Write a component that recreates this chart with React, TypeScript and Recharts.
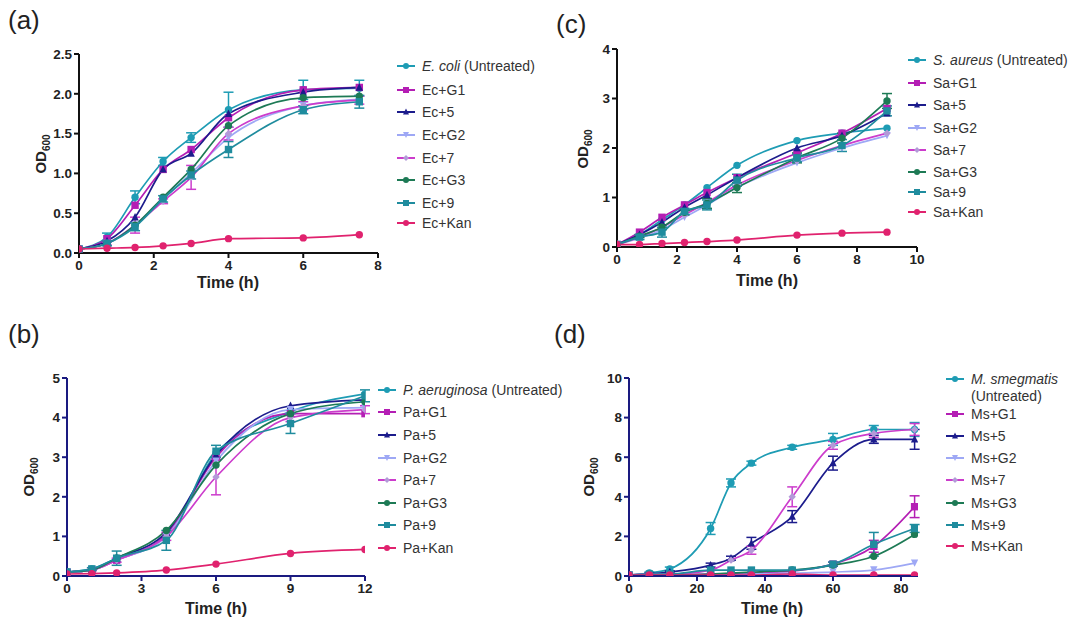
import React from "react";
import { LineChart, Line, XAxis, YAxis, ErrorBar } from "recharts";

// sample times (h)
const timeA = [0, 0.75, 1.5, 2.25, 3, 4, 6, 7.5];
const timeB = [0, 1, 2, 4, 6, 9, 12];
const timeC = [0, 0.75, 1.5, 2.25, 3, 4, 6, 7.5, 9];
const timeD = [0, 6, 12, 24, 30, 36, 48, 60, 72, 84];

// (a) E. coli
const ecUntreated = [0.05, 0.2, 0.7, 1.15, 1.45, 1.8, 2.05, 2.07];
const ecG1 = [0.05, 0.18, 0.6, 1.05, 1.3, 1.7, 2.05, 2.08];
const ec5 = [0.05, 0.15, 0.45, 1.05, 1.25, 1.75, 2.02, 2.08];
const ecG2 = [0.05, 0.12, 0.35, 0.68, 1.0, 1.45, 1.85, 1.93];
const ec7 = [0.05, 0.12, 0.35, 0.65, 0.95, 1.5, 1.85, 1.92];
const ecG3 = [0.05, 0.12, 0.35, 0.7, 1.05, 1.6, 1.95, 1.97];
const ec9 = [0.05, 0.12, 0.33, 0.68, 0.98, 1.3, 1.8, 1.9];
const ecKan = [0.05, 0.06, 0.07, 0.09, 0.12, 0.18, 0.19, 0.23];
const ecUntreatedErr = [0, 0.05, 0.08, 0.05, 0.06, 0.22, 0.12, 0.1];
const ec9Err = [0, 0.03, 0.05, 0.04, 0.05, 0.1, 0.05, 0.08];
const ec7Err = [0, 0.02, 0.1, 0.03, 0.15, 0.08, 0.05, 0.05];

// (b) P. aeruginosa
const paUntreated = [0.1, 0.18, 0.45, 1.0, 3.1, 4.15, 4.6];
const paG1 = [0.1, 0.15, 0.4, 1.05, 3.0, 4.1, 4.1];
const pa5 = [0.1, 0.15, 0.45, 1.1, 3.05, 4.3, 4.45];
const paG2 = [0.1, 0.15, 0.4, 1.0, 2.9, 4.2, 4.25];
const pa7 = [0.1, 0.15, 0.4, 1.0, 2.5, 4.0, 4.2];
const paG3 = [0.1, 0.15, 0.45, 1.15, 2.8, 4.1, 4.4];
const pa9 = [0.1, 0.18, 0.45, 0.9, 3.15, 3.85, 4.55];
const paKan = [0.05, 0.06, 0.08, 0.15, 0.3, 0.57, 0.67];
const pa9Err = [0, 0.03, 0.18, 0.25, 0.15, 0.25, 0.15];
const pa7Err = [0, 0.02, 0.05, 0.1, 0.45, 0.1, 0.1];

// (c) S. aureus
const saUntreated = [0.05, 0.25, 0.55, 0.85, 1.2, 1.65, 2.15, 2.3, 2.4];
const saG1 = [0.05, 0.3, 0.6, 0.85, 1.1, 1.4, 1.9, 2.3, 2.8];
const sa5 = [0.05, 0.25, 0.5, 0.8, 1.05, 1.4, 2.0, 2.25, 2.7];
const saG2 = [0.05, 0.18, 0.35, 0.6, 0.85, 1.2, 1.7, 2.0, 2.25];
const sa7 = [0.05, 0.2, 0.4, 0.65, 0.9, 1.25, 1.75, 2.05, 2.3];
const saG3 = [0.05, 0.22, 0.4, 0.7, 0.88, 1.2, 1.8, 2.2, 2.95];
const sa9 = [0.05, 0.2, 0.3, 0.72, 0.85, 1.35, 1.8, 2.05, 2.75];
const saKan = [0.05, 0.05, 0.07, 0.09, 0.11, 0.14, 0.24, 0.28, 0.3];
const saG3Err = [0, 0.03, 0.05, 0.05, 0.1, 0.1, 0.1, 0.1, 0.15];
const sa9Err = [0, 0.05, 0.1, 0.06, 0.1, 0.12, 0.08, 0.12, 0.1];

// (d) M. smegmatis
const msUntreated = [0.05, 0.15, 0.35, 2.4, 4.7, 5.7, 6.5, 6.9, 7.4, 7.4];
const msG1 = [0.05, 0.05, 0.05, 0.1, 0.1, 0.15, 0.25, 0.6, 1.5, 3.5];
const ms5 = [0.05, 0.1, 0.2, 0.55, 0.9, 1.65, 3.0, 5.7, 6.9, 6.9];
const msG2 = [0.05, 0.05, 0.05, 0.05, 0.05, 0.1, 0.15, 0.2, 0.3, 0.65];
const ms7 = [0.05, 0.1, 0.1, 0.3, 0.8, 1.3, 4.0, 6.6, 7.2, 7.4];
const msG3 = [0.05, 0.05, 0.05, 0.1, 0.15, 0.2, 0.3, 0.55, 1.0, 2.1];
const ms9 = [0.05, 0.1, 0.1, 0.3, 0.3, 0.3, 0.3, 0.6, 1.6, 2.4];
const msKan = [0.05, 0.05, 0.05, 0.05, 0.05, 0.05, 0.1, 0.05, 0.05, 0.05];
const msUntreatedErr = [0, 0.05, 0.1, 0.3, 0.2, 0.1, 0.1, 0.3, 0.2, 0.35];
const ms5Err = [0, 0.05, 0.05, 0.1, 0.1, 0.3, 0.3, 0.35, 0.2, 0.5];
const msG1Err = [0, 0, 0, 0, 0, 0, 0, 0.1, 0.3, 0.55];
const ms9Err = [0, 0, 0, 0, 0, 0, 0, 0.1, 0.6, 0.2];
const ms7Err = [0, 0, 0, 0, 0, 0.2, 0.5, 0.2, 0.2, 0.3];

const colors = ["#1e9cb4", "#b41eb4", "#1c1c8c", "#9ea8f5", "#cc3ccc", "#1d7a55", "#1f8c9e", "#e0226e"];
const markerColors = ["#1e9cb4", "#b41eb4", "#1c1c8c", "#9ea8f5", "#b39ad8", "#1d7a55", "#1f8c9e", "#e0226e"];
const shapes = ["circle", "square", "triangle", "tridown", "diamond", "circle", "square", "circle"];
const suffixes = ["+G1", "+5", "+G2", "+7", "+G3", "+9", "+Kan"];

const FONT = "Arial, 'Liberation Sans'";

function Marker({ cx, cy, shape, color, s = 3.7 }: any) {
  if (shape === "square") return <rect x={cx - s} y={cy - s} width={s * 2} height={s * 2} fill={color} />;
  if (shape === "triangle")
    return <polygon points={`${cx},${cy - s - 0.5} ${cx - s},${cy + s - 0.5} ${cx + s},${cy + s - 0.5}`} fill={color} />;
  if (shape === "tridown")
    return <polygon points={`${cx},${cy + s} ${cx - s},${cy - s} ${cx + s},${cy - s}`} fill={color} />;
  if (shape === "diamond")
    return <polygon points={`${cx},${cy - s} ${cx + s},${cy} ${cx},${cy + s} ${cx - s},${cy}`} fill={color} />;
  return <circle cx={cx} cy={cy} r={s} fill={color} />;
}

interface PanelProps {
  left: number;
  top: number;
  width: number;
  height: number;
  times: number[];
  series: number[][];
  errors: Record<number, number[]>;
  xDomain: [number, number];
  xTicks: number[];
  yDomain: [number, number];
  yTicks: number[];
  yFmt?: (v: number) => string;
  axisColor: string;
}

const tickStyle = { fontSize: 13.5, fontWeight: 700, fill: "#222", fontFamily: FONT };

function Panel(p: PanelProps) {
  const rows = p.times.map((t, i) => {
    const r: any = { t };
    p.series.forEach((s, k) => {
      r["s" + k] = s[i];
      if (p.errors[k]) r["e" + k] = p.errors[k][i];
    });
    return r;
  });
  return (
    <div style={{ position: "absolute", left: p.left, top: p.top }}>
      <LineChart width={p.width} height={p.height} data={rows} margin={{ top: 10, right: 10, left: 0, bottom: 0 }}>
        <XAxis
          dataKey="t"
          type="number"
          domain={p.xDomain}
          ticks={p.xTicks}
          height={45}
          tick={tickStyle}
          tickSize={5}
          stroke={p.axisColor}
          strokeWidth={2}
          tickLine={{ stroke: p.axisColor, strokeWidth: 2 }}
          allowDataOverflow
        />
        <YAxis
          type="number"
          domain={p.yDomain}
          ticks={p.yTicks}
          width={50}
          tick={tickStyle}
          tickSize={5}
          tickFormatter={p.yFmt}
          stroke={p.axisColor}
          strokeWidth={2}
          tickLine={{ stroke: p.axisColor, strokeWidth: 2 }}
          allowDataOverflow
        />
        {p.series.map((_, k) => (
          <Line
            key={k}
            dataKey={"s" + k}
            type="monotone"
            stroke={colors[k]}
            strokeWidth={1.7}
            isAnimationActive={false}
            dot={(d: any) => (
              <Marker key={`d${k}-${d.index}`} cx={d.cx} cy={d.cy} shape={shapes[k]} color={markerColors[k]} />
            )}
            activeDot={false}
          >
            {p.errors[k] ? (
              <ErrorBar dataKey={"e" + k} width={5} stroke={colors[k]} strokeWidth={1.5} direction="y" />
            ) : null}
          </Line>
        ))}
      </LineChart>
    </div>
  );
}

function LegendBox({ left, rows, prefix, species, wrap }: any) {
  return (
    <div style={{ position: "absolute", left, top: 0, fontFamily: FONT, fontSize: 14, color: "#333" }}>
      {rows.map((y: number, k: number) => (
        <div key={k} style={{ position: "absolute", top: y - 8, left: 0, whiteSpace: "nowrap", height: 16 }}>
          <svg width={20} height={16} style={{ position: "absolute", left: 0, top: 0 }}>
            <line x1={1} y1={8} x2={19} y2={8} stroke={colors[k]} strokeWidth={2} />
            <Marker cx={10} cy={8} shape={shapes[k]} color={markerColors[k]} s={3} />
          </svg>
          <span style={{ position: "absolute", left: 26, top: 0, lineHeight: wrap && k === 0 ? "17px" : "16px" }}>
            {k === 0 ? (
              wrap ? (
                <>
                  <i>{species}</i>
                  <br />
                  (Untreated)
                </>
              ) : (
                <>
                  <i>{species}</i> (Untreated)
                </>
              )
            ) : (
              prefix + suffixes[k - 1]
            )}
          </span>
        </div>
      ))}
    </div>
  );
}

function Label({ x, y, children }: any) {
  return (
    <div style={{ position: "absolute", left: x, top: y, fontFamily: FONT, fontSize: 26, color: "#222" }}>
      {children}
    </div>
  );
}

function YTitle({ x, y }: any) {
  return (
    <div
      style={{
        position: "absolute",
        left: x - 40,
        top: y - 11,
        width: 80,
        textAlign: "center",
        transform: "rotate(-90deg)",
        fontFamily: FONT,
        fontSize: 15,
        fontWeight: 700,
        color: "#222",
      }}
    >
      OD<sub style={{ fontSize: 10 }}>600</sub>
    </div>
  );
}

function XTitle({ x, y }: any) {
  return (
    <div
      style={{
        position: "absolute",
        left: x - 50,
        top: y - 9,
        width: 100,
        lineHeight: "18px",
        textAlign: "center",
        fontFamily: FONT,
        fontSize: 16,
        fontWeight: 700,
        color: "#222",
      }}
    >
      Time (h)
    </div>
  );
}

export default function App() {
  const fmt1 = (v: number) => v.toFixed(1);
  return (
    <div style={{ position: "fixed", left: 0, top: 0, width: 1070, height: 618, background: "#fff", overflow: "hidden" }}>
      <Label x={8} y={5}>(a)</Label>
      <Label x={556} y={9}>(c)</Label>
      <Label x={8} y={319}>(b)</Label>
      <Label x={554} y={319}>(d)</Label>

      <Panel
        left={29}
        top={44}
        width={359}
        height={254}
        times={timeA}
        series={[ecUntreated, ecG1, ec5, ecG2, ec7, ecG3, ec9, ecKan]}
        errors={{ 0: ecUntreatedErr, 4: ec7Err, 6: ec9Err }}
        xDomain={[0, 8]}
        xTicks={[0, 2, 4, 6, 8]}
        yDomain={[0, 2.5]}
        yTicks={[0, 0.5, 1, 1.5, 2, 2.5]}
        yFmt={fmt1}
        axisColor="#111"
      />
      <Panel
        left={567}
        top={39}
        width={360}
        height={253}
        times={timeC}
        series={[saUntreated, saG1, sa5, saG2, sa7, saG3, sa9, saKan]}
        errors={{ 5: saG3Err, 6: sa9Err }}
        xDomain={[0, 10]}
        xTicks={[0, 2, 4, 6, 8, 10]}
        yDomain={[0, 4]}
        yTicks={[0, 1, 2, 3, 4]}
        axisColor="#111"
      />
      <Panel
        left={17}
        top={368}
        width={358}
        height={253}
        times={timeB}
        series={[paUntreated, paG1, pa5, paG2, pa7, paG3, pa9, paKan]}
        errors={{ 4: pa7Err, 6: pa9Err }}
        xDomain={[0, 12]}
        xTicks={[0, 3, 6, 9, 12]}
        yDomain={[0, 5]}
        yTicks={[0, 1, 2, 3, 4, 5]}
        axisColor="#1a1a80"
      />
      <Panel
        left={579}
        top={368}
        width={349}
        height={253}
        times={timeD}
        series={[msUntreated, msG1, ms5, msG2, ms7, msG3, ms9, msKan]}
        errors={{ 0: msUntreatedErr, 1: msG1Err, 2: ms5Err, 4: ms7Err, 6: ms9Err }}
        xDomain={[0, 85]}
        xTicks={[0, 20, 40, 60, 80]}
        yDomain={[0, 10]}
        yTicks={[0, 2, 4, 6, 8, 10]}
        axisColor="#1a1a80"
      />

      <YTitle x={42} y={155} />
      <YTitle x={584} y={150} />
      <YTitle x={30} y={478} />
      <YTitle x={590} y={478} />
      <XTitle x={228} y={283} />
      <XTitle x={767} y={281} />
      <XTitle x={216} y={609} />
      <XTitle x={772} y={609} />

      <LegendBox left={396} rows={[66, 90, 112, 135, 158, 180, 203, 223]} prefix="Ec" species="E. coli" />
      <LegendBox left={907} rows={[60, 83, 105, 128, 150, 172, 192, 212]} prefix="Sa" species="S. aureus" />
      <LegendBox left={377} rows={[390, 412, 435, 458, 480, 503, 525, 548]} prefix="Pa" species="P. aeruginosa" />
      <LegendBox left={945} rows={[379, 414, 436, 458, 480, 503, 525, 546]} prefix="Ms" species="M. smegmatis" wrap />
    </div>
  );
}
